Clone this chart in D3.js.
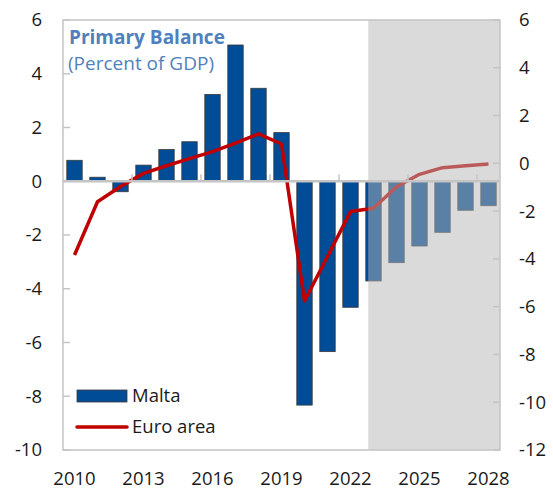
<!DOCTYPE html>
<html>
<head>
<meta charset="utf-8">
<script src="https://cdn.jsdelivr.net/npm/d3@7"></script>
<style>
body { margin: 0; background: #fff; }
text { font-family: "Open Sans", "Noto Sans", sans-serif; }
</style>
</head>
<body>
<div id="chart"></div>
<script>
let years = d3.range(2010, 2029);
let malta = [0.78, 0.15, -0.39, 0.6, 1.18, 1.47, 3.23, 5.07, 3.46, 1.81, -8.33, -6.34, -4.69, -3.71, -3.03, -2.41, -1.9, -1.08, -0.91];
let euro_area = [-3.84, -1.61, -0.97, -0.42, -0.1, 0.2, 0.49, 0.85, 1.23, 0.81, -5.76, -3.9, -2.02, -1.88, -0.98, -0.46, -0.18, -0.1, -0.03];
let left_ticks = [6, 4, 2, 0, -2, -4, -6, -8, -10];
let right_ticks = [6, 4, 2, 0, -2, -4, -6, -8, -10, -12];
let year_labels = [2010, 2013, 2016, 2019, 2022, 2025, 2028];
let forecast_start = 2023;

let W = 553, H = 489;
let m = {left: 63, right: 500, top: 20, bottom: 450};
let fs = "18.5px";

let svg = d3.select("#chart").append("svg")
    .attr("width", W)
    .attr("height", H);

let x = d3.scaleBand().domain(years).range([m.left, m.right]).paddingInner(0.33).paddingOuter(0.165);
let xb = d3.scaleBand().domain(years).range([m.left, m.right]);
let yL = d3.scaleLinear().domain([-10, 6]).range([m.bottom, m.top]);
let yR = d3.scaleLinear().domain([-12, 6]).range([m.bottom, m.top]);

let grey = "#c4c4c4";

// bars
svg.append("g")
    .selectAll("rect")
    .data(years)
    .enter()
    .append("rect")
    .attr("x", d => x(d))
    .attr("width", x.bandwidth())
    .attr("y", (d, i) => yL(Math.max(0, malta[i])))
    .attr("height", (d, i) => Math.abs(yL(malta[i]) - yL(0)))
    .attr("fill", "#004c97")
    .attr("stroke", "#3a3a3a")
    .attr("stroke-width", 0.8);

// euro area line
svg.append("path")
    .datum(years)
    .attr("fill", "none")
    .attr("stroke", "#c00000")
    .attr("stroke-width", 3.5)
    .attr("stroke-linejoin", "round")
    .attr("d", d3.line()
        .x(d => xb(d) + xb.bandwidth() / 2)
        .y((d, i) => yR(euro_area[i])));

// forecast shading
let shade_x = xb(forecast_start) + xb.bandwidth() * 0.27;
svg.append("rect")
    .attr("x", shade_x)
    .attr("y", m.top)
    .attr("width", m.right - shade_x)
    .attr("height", m.bottom - m.top)
    .attr("fill", "#b4b6b4")
    .attr("opacity", 0.5);

// frame
svg.append("rect")
    .attr("x", m.left)
    .attr("y", m.top)
    .attr("width", m.right - m.left)
    .attr("height", m.bottom - m.top)
    .attr("fill", "none")
    .attr("stroke", grey)
    .attr("stroke-width", 1.5);

// zero line and x ticks
svg.append("line")
    .attr("x1", m.left).attr("x2", m.right)
    .attr("y1", yL(0)).attr("y2", yL(0))
    .attr("stroke", grey)
    .attr("stroke-width", 2.5);

svg.append("g")
    .selectAll("line")
    .data(year_labels.slice(1))
    .enter()
    .append("line")
    .attr("x1", d => xb(d)).attr("x2", d => xb(d))
    .attr("y1", yL(0)).attr("y2", yL(0) - 7)
    .attr("stroke", grey)
    .attr("stroke-width", 1.5);

// left axis
let left = svg.append("g");
left.selectAll("line")
    .data(left_ticks)
    .enter()
    .append("line")
    .attr("x1", m.left).attr("x2", m.left + 7)
    .attr("y1", d => yL(d)).attr("y2", d => yL(d))
    .attr("stroke", grey)
    .attr("stroke-width", 1.5);
left.selectAll("text")
    .data(left_ticks)
    .enter()
    .append("text")
    .attr("x", 42)
    .attr("y", d => yL(d))
    .attr("dy", "0.35em")
    .attr("text-anchor", "end")
    .style("font-size", fs)
    .attr("fill", "#1a1a1a")
    .text(d => d);

// right axis
let right = svg.append("g");
right.selectAll("line")
    .data(right_ticks)
    .enter()
    .append("line")
    .attr("x1", m.right - 7).attr("x2", m.right)
    .attr("y1", d => yR(d)).attr("y2", d => yR(d))
    .attr("stroke", grey)
    .attr("stroke-width", 1.5);
right.selectAll("text")
    .data(right_ticks)
    .enter()
    .append("text")
    .attr("x", 519)
    .attr("y", d => yR(d))
    .attr("dy", "0.35em")
    .attr("text-anchor", "start")
    .style("font-size", fs)
    .attr("fill", "#1a1a1a")
    .text(d => d);

// x labels
svg.append("g")
    .selectAll("text")
    .data(year_labels)
    .enter()
    .append("text")
    .attr("x", d => xb(d) + xb.bandwidth() / 2)
    .attr("y", 479)
    .attr("dy", "0.35em")
    .attr("text-anchor", "middle")
    .style("font-size", fs)
    .attr("fill", "#1a1a1a")
    .text(d => d);

// title
svg.append("text")
    .attr("x", 69).attr("y", 44)
    .style("font-size", "19px")
    .style("font-weight", "bold")
    .attr("fill", "#4f81bd")
    .text("Primary Balance");
svg.append("text")
    .attr("x", 68).attr("y", 70)
    .style("font-size", "19px")
    .attr("fill", "#4f81bd")
    .text("(Percent of GDP)");

// legend
let legend = svg.append("g");
legend.append("rect")
    .attr("x", 77).attr("y", 390)
    .attr("width", 50).attr("height", 12)
    .attr("fill", "#004c97")
    .attr("stroke", "#3a3a3a")
    .attr("stroke-width", 0.8);
legend.append("text")
    .attr("x", 132).attr("y", 396)
    .attr("dy", "0.35em")
    .style("font-size", fs)
    .attr("fill", "#1a1a1a")
    .text("Malta");
legend.append("line")
    .attr("x1", 77).attr("x2", 127)
    .attr("y1", 427).attr("y2", 427)
    .attr("stroke", "#c00000")
    .attr("stroke-width", 3.5)
    .attr("stroke-linecap", "round");
legend.append("text")
    .attr("x", 132).attr("y", 427)
    .attr("dy", "0.35em")
    .style("font-size", fs)
    .attr("fill", "#1a1a1a")
    .text("Euro area");
</script>
</body>
</html>
